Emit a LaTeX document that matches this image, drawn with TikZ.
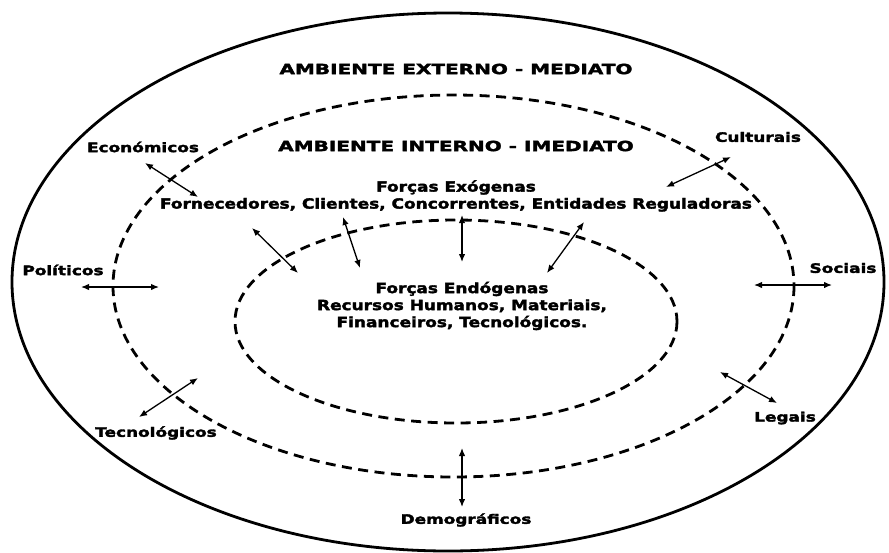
\documentclass[tikz,border=0pt]{standalone}
\usepackage{fontspec}
\setmainfont{DejaVu Sans}
\newfontfamily\lblfont[FakeStretch=1.3,FakeBold=2.5]{DejaVu Sans}
\newfontfamily\bodyfont[FakeStretch=1.21,FakeBold=2.5]{DejaVu Sans}
\newfontfamily\ttlfont[FakeStretch=1.43,FakeBold=2.5]{DejaVu Sans}
\usetikzlibrary{arrows.meta}
\begin{document}
\begin{tikzpicture}[x=1pt,y=-1pt,
  lbl/.style={font=\lblfont\bfseries\fontsize{13}{15}\selectfont, inner sep=0pt},
  ttl/.style={font=\ttlfont\bfseries\fontsize{14}{16}\selectfont, inner sep=0pt},
  txt/.style={font=\bodyfont\bfseries\fontsize{14}{17}\selectfont, inner sep=0pt, align=center},
  dring/.style={line width=2.8pt, dash pattern=on 10pt off 6.5pt},
  oring/.style={line width=2.8pt},
  dbl/.style={line width=1.3pt, {Latex[length=8pt,width=6.5pt]}-{Latex[length=8pt,width=6.5pt]}}]
\useasboundingbox (0,0) rectangle (889,552);
% rings
\draw[oring] (448,282) ellipse [x radius=436, y radius=269];
\draw[dring] (453.5,286) ellipse [x radius=340.5, y radius=191];
\draw[dring] (456,321.5) ellipse [x radius=221, y radius=101.5];
% titles
\node[ttl] (ext) at (456,69) {AMBIENTE EXTERNO - MEDIATO};
\node[ttl] (int) at (456,146) {AMBIENTE INTERNO - IMEDIATO};
\node[txt] (exo) at (456,196) {Forças Exógenas\\Fornecedores, Clientes, Concorrentes, Entidades Reguladoras};
\node[txt] (endo) at (462,306) {Forças Endógenas\\Recursos Humanos, Materiais,\\Financeiros, Tecnológicos.};
% external labels
\node[lbl] (eco) at (143,147) {Económicos};
\node[lbl] (cul) at (758,137) {Culturais};
\node[lbl] (pol) at (63,270) {Políticos};
\node[lbl] (soc) at (843,268) {Sociais};
\node[lbl] (tec) at (156,433) {Tecnológicos};
\node[lbl] (leg) at (785,418) {Legais};
\node[lbl] (dem) at (466,520) {Demográficos};
% arrow ends
\coordinate (eco1) at (145,163); \coordinate (eco2) at (198,197);
\coordinate (cul1) at (731,157); \coordinate (cul2) at (666,187);
\coordinate (pol1) at (81,287);  \coordinate (pol2) at (159,287);
\coordinate (soc1) at (754,285); \coordinate (soc2) at (832,285);
\coordinate (tec1) at (139,417); \coordinate (tec2) at (198,378);
\coordinate (leg1) at (720,372); \coordinate (leg2) at (777,403);
\coordinate (dem1) at (462,448); \coordinate (dem2) at (462,507);
\coordinate (i1a) at (252,228); \coordinate (i1b) at (298,273);
\coordinate (i2a) at (343,217); \coordinate (i2b) at (360,268);
\coordinate (i3a) at (462,215); \coordinate (i3b) at (462,262);
\coordinate (i4a) at (584,222); \coordinate (i4b) at (547,273);
\foreach \a/\b in {eco1/eco2,cul1/cul2,pol1/pol2,soc1/soc2,tec1/tec2,leg1/leg2,dem1/dem2,i1a/i1b,i2a/i2b,i3a/i3b,i4a/i4b}
  \draw[dbl] (\a) -- (\b);
\end{tikzpicture}
\end{document}
